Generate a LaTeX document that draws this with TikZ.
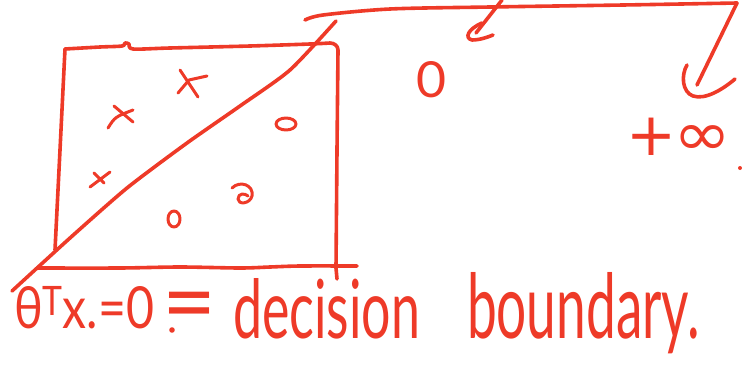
\documentclass[tikz,border=0pt]{standalone}
\usepackage{fontspec}
\setmainfont{Lato}
\newfontfamily\symfont{DejaVu Sans}
\usepackage{graphicx}
\definecolor{inkred}{RGB}{238,58,40}
\begin{document}
\begin{tikzpicture}[x=1pt,y=-1pt,
  ink/.style={draw=inkred,line width=3.6pt,line cap=round,line join=round},
  thin ink/.style={draw=inkred,line width=3pt,line cap=round,line join=round},
  label/.style={text=inkred,inner sep=0pt,outer sep=0pt}]
\useasboundingbox (0,0) rectangle (742,370);
% box
\draw[ink] plot[smooth,tension=0.5] coordinates {(65,49) (100,47) (122,46) (125,43) (129,44) (133,49) (170,48) (250,46) (310,44) (330,43)}
  to[out=0,in=90] (338,50) -- (337,150) -- (336,268) -- (337,279);
\draw[ink] (65,49) -- (60,150) -- (55,250);
\draw[ink] plot[smooth,tension=0.5] coordinates {(37,268) (120,268) (180,267) (240,268) (270,267) (300,266) (357,266)};
% decision line
\draw[ink] plot[smooth,tension=0.4] coordinates {(12,291) (70,238) (127,188) (187,143) (240,106) (290,70) (336,21)};
% crosses
\draw[thin ink] (180,70) -- (198,97) (178,93) -- (189,80) -- (207,76);
\draw[thin ink] (114,106) -- (133,122) (108,128) .. controls (115,117) .. (133,110);
\draw[thin ink] (94,173) -- (104,183) (90,187) -- (110,172);
% circles
\draw[thin ink] (286,124) ellipse [x radius=10,y radius=6];
\draw[thin ink] (232,188) .. controls (240,180) and (254,185) .. (252,196) .. controls (250,204) and (238,205) .. (238,199) .. controls (238,193) and (245,193) .. (248,196);
\draw[thin ink] (174,219) ellipse [x radius=6,y radius=8];
% top bracket and arrows
\draw[ink] plot[smooth,tension=0.5] coordinates {(305,20) (323,15) (390,9) (490,7) (623,5) (737,3)};
\coordinate (a1top) at (502,0);
\coordinate (a1tip) at (476,33);
\draw[ink] (a1top) -- (a1tip);
\draw[ink] (482,23) .. controls (468,29) and (464,38) .. (472,40) .. controls (480,40) and (488,37) .. (493,35);
\coordinate (a2top) at (737,3);
\coordinate (a2tip) at (697,85);
\draw[ink] (a2top) -- (a2tip);
\draw[ink] (687,65) .. controls (681,75) and (682,92) .. (693,96) .. controls (705,100) and (722,90) .. (735,79);
% labels
\node[label,anchor=center] (zero) at (431,80) {\resizebox{30pt}{36pt}{0}};
\node[label,anchor=center] (inf) at (679,137) {\symfont\resizebox{50pt}{!}{+}\hspace{-2.5pt}\resizebox{58pt}{30pt}{∞}};
\fill[inkred] (740,168) circle (2pt);
\node[label,anchor=base west] (eq) at (14,328) {\resizebox{140pt}{42pt}{θ\raisebox{0.22em}{\scriptsize T}x.=0}};
\node[label,anchor=base] (eq2) at (190,334) {\makebox[26pt]{\resizebox{54pt}{!}{=}}};
\fill[inkred] (172,330) circle (2.8pt);
\node[label,anchor=base west] (dec) at (233,338) {\resizebox{187pt}{60pt}{decision}};
\node[label,anchor=base west] (bnd) at (467,338) {\resizebox{233pt}{66pt}{boundary.}};
\end{tikzpicture}
\end{document}
